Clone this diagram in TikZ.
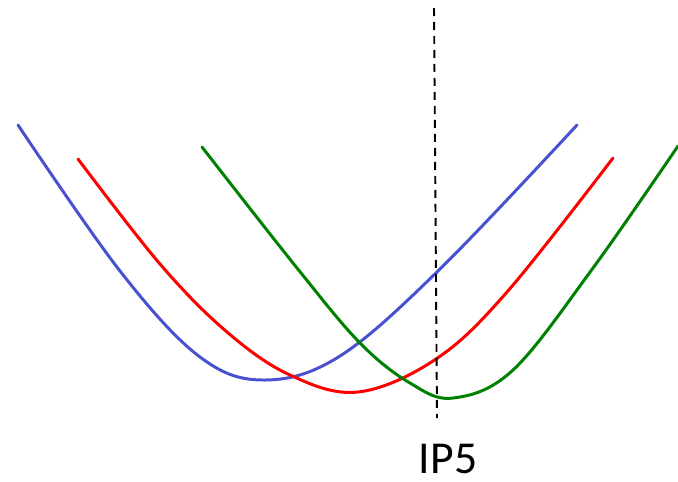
\documentclass[tikz,border=0pt]{standalone}
\usepackage{fontspec}
\setmainfont{Carlito}
\definecolor{cblue}{RGB}{72,82,208}
\definecolor{cred}{RGB}{255,0,0}
\definecolor{cgreen}{RGB}{0,128,0}
\begin{document}
\begin{tikzpicture}[x=0.02cm,y=-0.02cm,
  curve/.style={line width=1.7pt,line cap=round,line join=round},
  marker/.style={line width=1.1pt,dash pattern=on 0.16cm off 0.12cm}]
\useasboundingbox (0,0) rectangle (678,481);
\draw[curve,cblue] plot[smooth,tension=0.6] coordinates {(18,125) (120,271) (200,357) (265,380) (340,356) (440,269) (577,125)};
\draw[curve,cred] plot[smooth,tension=0.6] coordinates {(78,159) (160,264) (227,332) (290,375) (358,392) (436,359) (507,292) (613,158)};
\draw[curve,cgreen] plot[smooth,tension=0.6] coordinates {(202,147) (297,268) (360,343) (410,383) (453,398) (513,370) (593,268) (678,146)};
\coordinate (top) at (434,8);
\coordinate (bot) at (437,418);
\draw[marker] (top) -- (bot);
\node[font=\fontsize{26}{30}\selectfont,inner sep=0pt] (ip) at (448,459) {IP5};
\end{tikzpicture}
\end{document}
